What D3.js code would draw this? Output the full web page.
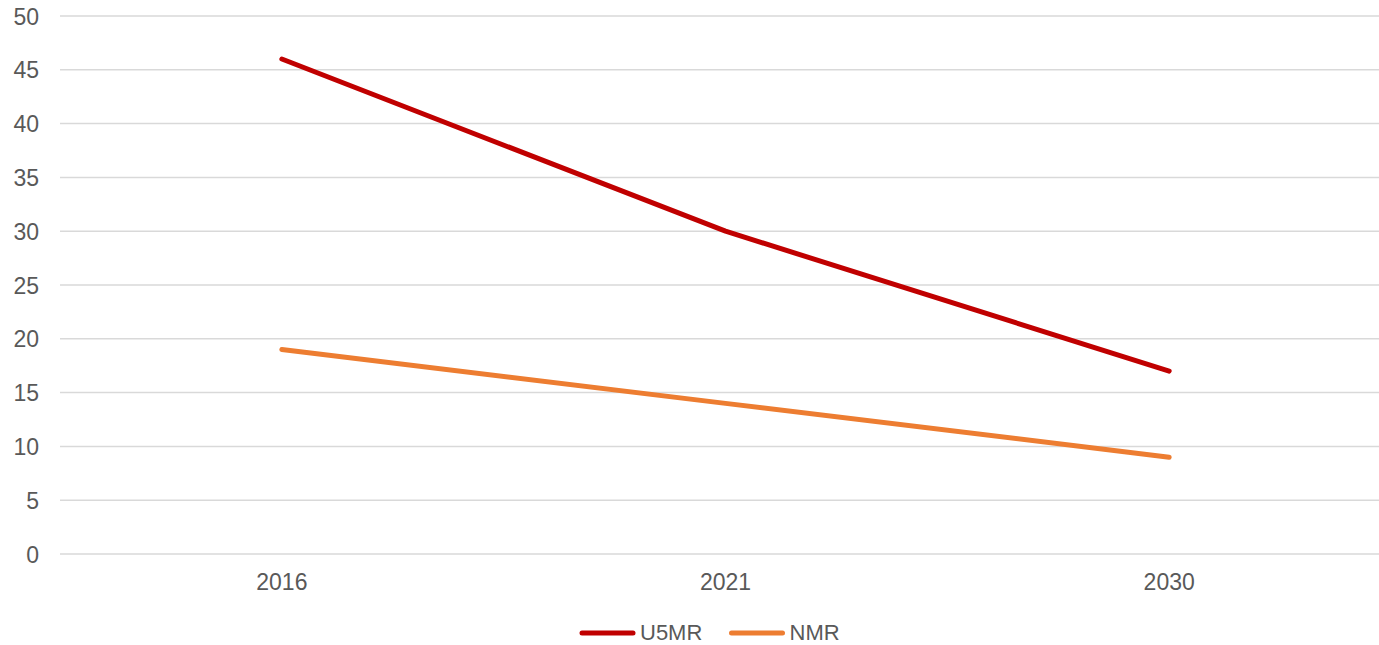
<!DOCTYPE html>
<html>
<head>
<meta charset="utf-8">
<script src="https://cdn.jsdelivr.net/npm/d3@7"></script>
<style>
  html, body { margin: 0; padding: 0; background: #fff; }
  svg { display: block; font-family: "Liberation Sans", Arial, sans-serif; }
</style>
</head>
<body>
<svg id="chart" width="1379" height="645"></svg>
<script>
// Mortality rates (per 1,000 live births) by year
const years = ["2016", "2021", "2030"];
const u5mr = [46, 30, 17];
const nmr = [19, 14, 9];
const yTicks = [0, 5, 10, 15, 20, 25, 30, 35, 40, 45, 50];

const series = [
  { name: "U5MR", values: u5mr, color: "#C00000" },
  { name: "NMR", values: nmr, color: "#ED7D31" }
];

const svg = d3.select("#chart");
const plot = { left: 60, right: 1391, top: 16, bottom: 554 };
const fontSize = "23px";

const x = d3.scaleBand().domain(years).range([plot.left, plot.right]);
const y = d3.scaleLinear().domain([0, 50]).range([plot.bottom, plot.top]);

// Horizontal gridlines
svg.append("g")
  .selectAll("line")
  .data(yTicks)
  .join("line")
  .attr("x1", plot.left)
  .attr("x2", plot.right)
  .attr("y1", d => y(d))
  .attr("y2", d => y(d))
  .attr("stroke", "#d9d9d9")
  .attr("stroke-width", 1.5);

// Y axis labels
const yAxis = svg.append("g")
  .attr("transform", `translate(${plot.left - 21},0)`)
  .call(d3.axisLeft(y).tickValues(yTicks).tickSize(0).tickPadding(0));
yAxis.select(".domain").remove();
yAxis.selectAll("text")
  .attr("fill", "#595959")
  .style("font-size", fontSize)
  .attr("dy", "0.35em");

// X axis labels
const xAxis = svg.append("g")
  .attr("transform", `translate(0,${plot.bottom})`)
  .call(d3.axisBottom(x).tickSize(0).tickPadding(20));
xAxis.select(".domain").remove();
xAxis.selectAll("text")
  .attr("fill", "#595959")
  .style("font-size", fontSize);

// Lines
const line = d3.line()
  .x((d, i) => x(years[i]) + x.bandwidth() / 2)
  .y(d => y(d));

svg.append("g")
  .selectAll("path")
  .data(series)
  .join("path")
  .attr("d", d => line(d.values))
  .attr("fill", "none")
  .attr("stroke", d => d.color)
  .attr("stroke-width", 5)
  .attr("stroke-linecap", "round")
  .attr("stroke-linejoin", "round");

// Legend
const legend = svg.append("g").attr("transform", "translate(582,633)");
const items = legend.selectAll("g")
  .data(series)
  .join("g")
  .attr("transform", (d, i) => `translate(${i * 149.5},0)`);
items.append("line")
  .attr("x1", 0).attr("x2", 51)
  .attr("y1", 0).attr("y2", 0)
  .attr("stroke", d => d.color)
  .attr("stroke-width", 5)
  .attr("stroke-linecap", "round");
items.append("text")
  .attr("x", 58)
  .attr("y", 0)
  .attr("dy", "0.3em")
  .attr("fill", "#595959")
  .style("font-size", "22px")
  .text(d => d.name);
</script>
</body>
</html>
